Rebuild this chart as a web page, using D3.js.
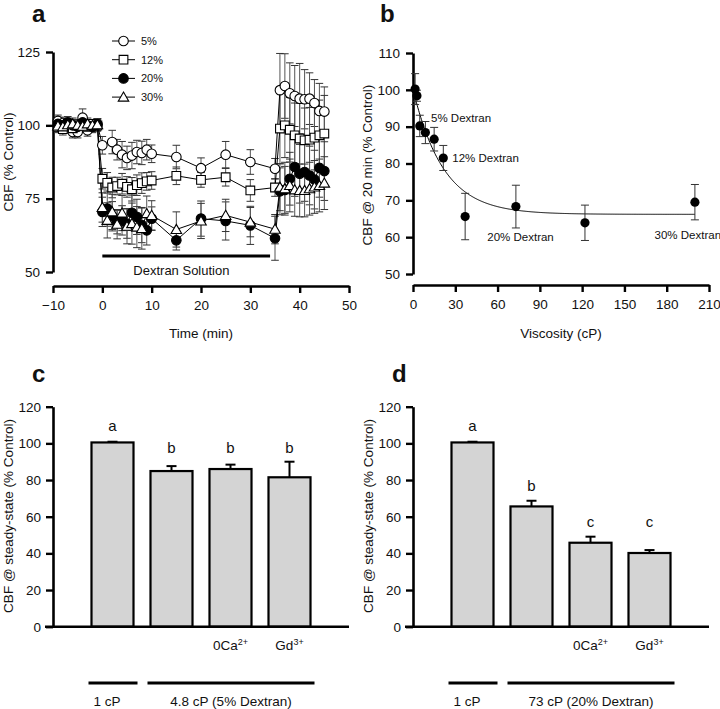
<!DOCTYPE html>
<html><head><meta charset="utf-8">
<script src="https://cdn.jsdelivr.net/npm/d3@7"></script>
<style>
body{margin:0;background:#fff}
text{font-family:'Liberation Sans',Arial,Helvetica,sans-serif;fill:#111}
</style>
</head><body><svg id="fig" width="720" height="709"></svg>
<script>
// ---------------- Panel a data ----------------
const timeA = [-9,-8,-7,-6,-5,-4,-3,-2,-1, 0,1,2,3,4,5,6,7,8,9,10, 15,20,25,30,35, 36,37,38,39,40,41,42,43,44,45];
const seriesNamesA = ["5%","12%","20%","30%"];
const cbf5  = [101.5,100.8,100.3,97.7,97.7,102.6,98.3,99.8,100.3, 93.2,null,94.3,91.7,90,88.9,89.7,90.9,90.6,91.7,90.3, 89.2,85.4,90,87.5,85.2, 112,113.4,110.9,110,109.1,108.9,109.1,107.6,104.9,104.7];
const err5  = [2,2,2,2,2,3,2,2,2, 3,null,4,3.5,4.5,4,4.5,4,4,3.5,3, 4,3.5,4.5,4.2,3.5, 12.5,11,10.4,10.4,12,10.1,8.8,8,9.4,8.4];
const cbf12 = [99.5,98.7,100.5,99,100,100.3,99.5,100.5,100, 81.8,80.4,78.8,79.3,80.1,79,78.2,79.6,80.3,80.9,81.2, 82.8,81.4,82.3,77.8,78.8, 98.9,100,98.5,96.6,95.5,94.9,95.1,95.8,96.6,97.2];
const err12 = [2,2,1.5,2,2,2,2,1.5,2, 3.5,3.5,3.5,3,3.5,3.5,4,3.5,3.5,3,3, 3,2.5,3,3.7,3, 12,11,11,11,12,11,11,11,12,13];
const cbf20 = [100.5,100,101,100,99.5,101,100,99.5,100.3, 70.5,71.6,69,67,67.6,66.5,70.2,68.8,66,64.2,68.2, 60.8,68.2,67.4,65.9,61.5, 77.5,78,81.8,85.8,83.5,84.1,82.9,81.5,85.5,84.4];
const err20 = [2,2,2,2,2,2,2,2,2, 5,6,5,4,5,5,6,6,6,5,4, 3.3,6,6.5,6.5,7.5, 8,8,9,10,10,10,10,10,10,10];
const cbf30 = [99.8,99.5,100.2,100.5,100,99.7,100.5,100,100.2, 72,67.6,70.5,66.3,70.1,65.6,66.5,65.3,64.8,69.9,69.3, 64.5,67.4,69.3,67,64.6, 78.9,78.4,79.5,78,77.8,77.8,78.4,79,79.5,80.3];
const err30 = [2,2,2,2,2,2,2,2,2, 5,6,6,5,6,6,7,7,7,6,5, 6,6,5.5,5,5, 8,9,9,9,9,9,9,9,9,9];
const ticksAx = [-10,0,10,20,30,40,50];
const ticksAy = [50,75,100,125];
const dextranPeriod = [0,34];

// ---------------- Panel b data ----------------
const viscB = [1.5,2.8,4.8,8.8,15,21.5,37,73,122,200];
const cbfB  = [100.2,98.4,90.2,88.4,86.6,81.5,65.6,68.3,63.9,69.5];
const errB  = [4.2,1.5,2.9,3,3.2,3.4,6.3,5.8,4.8,4.8];
const fitPlateau = 66.2, fitSpan = 34, fitTau = 21.5;
const labelTextB = ["5% Dextran","12% Dextran","20% Dextran","30% Dextran"];
const labelXB = [12.8,27.9,52.7,171.4];
const labelYB = [91.4,80.3,58.9,59.4];
const ticksBx = [0,30,60,90,120,150,180,210];
const ticksBy = [50,60,70,80,90,100,110];

// ---------------- Panel c / d data ----------------
const barCats = ["ctrl","dex","zeroCa","gd"];
const barTickMain = ["","","0Ca","Gd"];
const barTickSup  = ["","","2+","3+"];
const valsC = [100.5,84.9,86,81.5];
const errC  = [0.4,2.7,2.4,8.5];
const lettersC = ["a","b","b","b"];
const letterYC = [107,95,95,95];
const groupsC = ["1 cP","4.8 cP (5% Dextran)"];
const valsD = [100.5,65.6,45.8,40.2];
const errD  = [0.4,3.1,3.3,1.6];
const lettersD = ["a","b","c","c"];
const letterYD = [107,74.2,54.2,54.2];
const groupsD = ["1 cP","73 cP (20% Dextran)"];
const groupSpans = [[0,0],[1,3]];
const ticksCy = [0,20,40,60,80,100,120];

const svg = d3.select("#fig");
const FS = 13.5;

function styleAxis(g){
  g.select(".domain").attr("stroke","#000").attr("stroke-width",2.6);
  g.selectAll(".tick line").attr("stroke","#000").attr("stroke-width",2.4);
  g.selectAll(".tick text").attr("font-size",FS).attr("fill","#111")
   .attr("font-family","'Liberation Sans',Arial,sans-serif");
}
function panelLabel(t,x,y){
  svg.append("text").attr("x",x).attr("y",y).attr("font-size",24).attr("font-weight","bold").text(t);
}
function yTitle(t,x,yc){
  svg.append("text").attr("transform",`translate(${x},${yc}) rotate(-90)`)
    .attr("text-anchor","middle").attr("font-size",FS).text(t);
}

// ================= Panel a =================
{
  const x = d3.scaleLinear().domain([-10,50]).range([53,349]);
  const y = d3.scaleLinear().domain([50,125]).range([272,52]);
  const gy = svg.append("g").attr("transform","translate(53,0)")
    .call(d3.axisLeft(y).tickValues(ticksAy).tickSize(7).tickSizeOuter(0).tickPadding(6));
  styleAxis(gy);
  const gx = svg.append("g").attr("transform","translate(0,286)")
    .call(d3.axisBottom(x).tickValues(ticksAx).tickSize(7).tickSizeOuter(0).tickPadding(7));
  styleAxis(gx);
  panelLabel("a",32,22);
  yTitle("CBF (% Control)",13,162);
  svg.append("text").attr("x",(x(-10)+x(50))/2).attr("y",338).attr("text-anchor","middle")
    .attr("font-size",FS).text("Time (min)");

  const vals = [cbf5,cbf12,cbf20,cbf30];
  const errs = [err5,err12,err20,err30];
  const symbols = [
    {type:d3.symbolCircle,size:72,fill:"#fff"},
    {type:d3.symbolSquare,size:76,fill:"#fff"},
    {type:d3.symbolCircle,size:72,fill:"#000"},
    {type:d3.symbolTriangle,size:48,fill:"#fff"}
  ];
  const data = vals.map((v,i)=>timeA.map((t,j)=>({t,v:v[j],e:errs[i][j]})).filter(d=>d.v!=null));
  data.forEach(ser=>{
    const g = svg.append("g").attr("stroke","#555").attr("stroke-width",1);
    ser.forEach(d=>{
      g.append("line").attr("x1",x(d.t)).attr("x2",x(d.t)).attr("y1",y(d.v-d.e)).attr("y2",y(d.v+d.e));
      [d.v-d.e,d.v+d.e].forEach(vv=>g.append("line").attr("x1",x(d.t)-3.8).attr("x2",x(d.t)+3.8)
        .attr("y1",y(vv)).attr("y2",y(vv)).attr("stroke","#333"));
    });
  });
  const line = d3.line().x(d=>x(d.t)).y(d=>y(d.v));
  data.forEach(ser=>{
    svg.append("path").datum(ser).attr("d",line).attr("fill","none").attr("stroke","#000").attr("stroke-width",1);
  });
  data.forEach((ser,i)=>{
    const s = symbols[i];
    svg.append("g").selectAll("path").data(ser).join("path")
      .attr("d",d3.symbol().type(s.type).size(s.size))
      .attr("transform",d=>`translate(${x(d.t)},${y(d.v)+(i===3?1:0)})`)
      .attr("fill",s.fill).attr("stroke","#000").attr("stroke-width",1.1);
  });
  svg.append("line").attr("x1",x(dextranPeriod[0])).attr("x2",x(dextranPeriod[1]))
    .attr("y1",256).attr("y2",256).attr("stroke","#000").attr("stroke-width",3);
  svg.append("text").attr("x",x(dextranPeriod[0])+31).attr("y",275).attr("font-size",13).text("Dextran Solution");
  seriesNamesA.forEach((n,i)=>{
    const ly = 41 + i*18.7;
    svg.append("line").attr("x1",112).attr("x2",135).attr("y1",ly).attr("y2",ly).attr("stroke","#000").attr("stroke-width",1);
    const s = symbols[i];
    svg.append("path").attr("d",d3.symbol().type(s.type).size(s.size)).attr("transform",`translate(123.5,${ly+(i===3?1:0)})`)
      .attr("fill",s.fill).attr("stroke","#000").attr("stroke-width",1.1);
    svg.append("text").attr("x",141).attr("y",ly+4).attr("font-size",11).text(n);
  });
}

// ================= Panel b =================
{
  const x = d3.scaleLinear().domain([0,210]).range([413,709]);
  const y = d3.scaleLinear().domain([50,110]).range([274,53]);
  const gy = svg.append("g").attr("transform","translate(413,0)")
    .call(d3.axisLeft(y).tickValues(ticksBy).tickSize(7).tickSizeOuter(0).tickPadding(6));
  styleAxis(gy);
  const gx = svg.append("g").attr("transform","translate(0,285)")
    .call(d3.axisBottom(x).tickValues(ticksBx).tickSize(7).tickSizeOuter(0).tickPadding(7));
  styleAxis(gx);
  panelLabel("b",380,22);
  yTitle("CBF @ 20 min (% Control)",372,165);
  svg.append("text").attr("x",(x(0)+x(210))/2).attr("y",338).attr("text-anchor","middle")
    .attr("font-size",FS).text("Viscosity (cP)");
  const fitX = d3.range(0,200.5,0.5);
  svg.append("path").datum(fitX)
    .attr("d",d3.line().x(v=>x(v)).y(v=>y(fitPlateau+fitSpan*Math.exp(-v/fitTau))))
    .attr("fill","none").attr("stroke","#000").attr("stroke-width",1);
  const pts = viscB.map((v,i)=>({v,c:cbfB[i],e:errB[i]}));
  const ge = svg.append("g").attr("stroke","#333").attr("stroke-width",1);
  pts.forEach(d=>{
    ge.append("line").attr("x1",x(d.v)).attr("x2",x(d.v)).attr("y1",y(d.c-d.e)).attr("y2",y(d.c+d.e));
    [d.c-d.e,d.c+d.e].forEach(vv=>ge.append("line").attr("x1",x(d.v)-4).attr("x2",x(d.v)+4).attr("y1",y(vv)).attr("y2",y(vv)));
  });
  svg.append("g").selectAll("circle").data(pts).join("circle")
    .attr("cx",d=>x(d.v)).attr("cy",d=>y(d.c)).attr("r",4.6).attr("fill","#000");
  labelTextB.forEach((t,i)=>{
    svg.append("text").attr("x",x(labelXB[i])).attr("y",y(labelYB[i])).attr("font-size",11.5).text(t);
  });
}

// ================= Panels c & d =================
function barPanel(ox, label, vals, errs, letters, letterY, groups){
  const axisX = ox + 53;
  const y = d3.scaleLinear().domain([0,120]).range([626.7,406.7]);
  const xb = d3.scaleBand().domain(barCats).range([ox+83, ox+319]).paddingInner(0.288).paddingOuter(0.144);
  const bw = xb.bandwidth();
  svg.append("g").selectAll("rect").data(barCats).join("rect")
    .attr("x",c=>xb(c)).attr("width",bw)
    .attr("y",(c,i)=>y(vals[i])).attr("height",(c,i)=>y(0)-y(vals[i]))
    .attr("fill","#d4d4d4").attr("stroke","#000").attr("stroke-width",2.2);
  const ge = svg.append("g").attr("stroke","#000").attr("stroke-width",2);
  barCats.forEach((c,i)=>{
    const cx = xb(c)+bw/2;
    ge.append("line").attr("x1",cx).attr("x2",cx).attr("y1",y(vals[i])).attr("y2",y(vals[i]+errs[i]));
    ge.append("line").attr("x1",cx-5).attr("x2",cx+5).attr("y1",y(vals[i]+errs[i])).attr("y2",y(vals[i]+errs[i]));
    svg.append("text").attr("x",cx).attr("y",y(letterY[i])).attr("text-anchor","middle").attr("font-size",15).text(letters[i]);
    if(barTickMain[i]){
      const t = svg.append("text").attr("x",cx).attr("y",650).attr("text-anchor","middle").attr("font-size",FS);
      t.append("tspan").text(barTickMain[i]);
      t.append("tspan").attr("dy",-5).attr("font-size",9).text(barTickSup[i]);
    }
  });
  const gy = svg.append("g").attr("transform",`translate(${axisX},0)`)
    .call(d3.axisLeft(y).tickValues(ticksCy).tickSize(7).tickSizeOuter(0).tickPadding(5));
  styleAxis(gy);
  svg.append("line").attr("x1",ox+45).attr("x2",ox+349).attr("y1",y(0)).attr("y2",y(0))
    .attr("stroke","#000").attr("stroke-width",2.6);
  panelLabel(label,ox+32,382);
  yTitle("CBF @ steady-state (% Control)",ox+13,516);
  groupSpans.forEach((sp,gi)=>{
    const x1 = xb(barCats[sp[0]])-3, x2 = xb(barCats[sp[1]])+bw+4;
    svg.append("line").attr("x1",x1).attr("x2",x2).attr("y1",683).attr("y2",683).attr("stroke","#000").attr("stroke-width",3);
    svg.append("text").attr("x",(x1+x2)/2 - (gi===0?6:0)).attr("y",706).attr("text-anchor","middle").attr("font-size",FS).text(groups[gi]);
  });
}
barPanel(0,"c",valsC,errC,lettersC,letterYC,groupsC);
barPanel(360,"d",valsD,errD,lettersD,letterYD,groupsD);
</script>
</body></html>
